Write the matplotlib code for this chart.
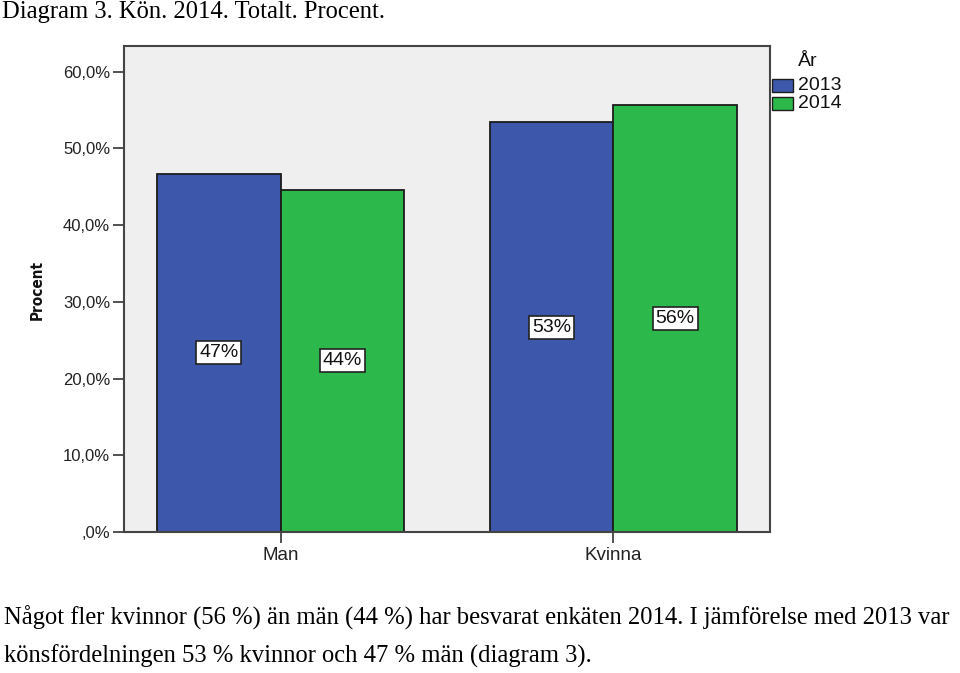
import matplotlib
matplotlib.use("Agg")
import matplotlib.pyplot as plt
from matplotlib.patches import Rectangle
from matplotlib import font_manager
import numpy as np

categories = ["Man", "Kvinna"]
years = ["2013", "2014"]
values_2013 = [46.7, 53.4]
values_2014 = [44.6, 55.6]
labels_2013 = ["47%", "53%"]
labels_2014 = ["44%", "56%"]
yticks = [0, 10, 20, 30, 40, 50, 60]
ytick_labels = [",0%", "10,0%", "20,0%", "30,0%", "40,0%", "50,0%", "60,0%"]

blue = "#3D58AB"
green = "#2DB84B"
edge = "#1c1c1c"

W, H = 960, 673
fig = plt.figure(figsize=(W / 100, H / 100), dpi=100)
fig.patch.set_facecolor("white")

ax = fig.add_axes([124 / W, 1 - 532 / H, (770 - 124) / W, (532 - 45.5) / H])
ax.set_facecolor("#EFEFEF")

x = np.arange(len(categories))
bw = 0.371
b1 = ax.bar(x - bw / 2, values_2013, bw, color=blue, edgecolor=edge, linewidth=1.3)
b2 = ax.bar(x + bw / 2, values_2014, bw, color=green, edgecolor=edge, linewidth=1.3)

sans = ["Liberation Sans", "DejaVu Sans"]
for bars, labs in ((b1, labels_2013), (b2, labels_2014)):
    for r, lab in zip(bars, labs):
        ax.text(r.get_x() + r.get_width() / 2, r.get_height() / 2, lab,
                ha="center", va="center", fontsize=14, family=sans, color="#111111",
                bbox=dict(boxstyle="square,pad=0.15", facecolor="white", edgecolor="#222222", linewidth=1.2))

ax.set_xlim(-0.47, 1.47)
ax.set_ylim(0, 63.4)
ax.set_yticks(yticks)
ax.set_yticklabels(ytick_labels, family=sans, fontsize=12, color="#222222")
ax.set_xticks(x)
ax.set_xticklabels(categories, family=sans, fontsize=13.5, color="#222222")
ax.tick_params(axis="y", direction="out", length=8, width=1.2, color="#333333", pad=2)
ax.tick_params(axis="x", direction="out", length=8, width=1.2, color="#333333", pad=3)
for s in ax.spines.values():
    s.set_color("#444444")
    s.set_linewidth(1.5)

names = {f.name for f in font_manager.fontManager.ttflist}
narrow = "Liberation Sans Narrow" if "Liberation Sans Narrow" in names else "DejaVu Sans"
fig.text(37 / W, 1 - 290 / H, "Procent", rotation=90, ha="center", va="center",
         fontsize=11, fontweight="bold", family=[narrow, "DejaVu Sans"],
         fontstretch="condensed", color="#111111")

# legend
fig.text(798 / W, 1 - 61 / H, "År", ha="left", va="center", fontsize=14, family=sans, color="#111111")
for i, (yr, col) in enumerate(zip(years, [blue, green])):
    top = 79 + i * 18
    fig.patches.append(Rectangle((772 / W, 1 - (top + 13) / H), 21 / W, 13 / H,
                                 transform=fig.transFigure, facecolor=col, edgecolor=edge, linewidth=1.0))
    fig.text(798 / W, 1 - (top + 6.5) / H, yr, ha="left", va="center", fontsize=14, family=sans, color="#111111")

serif = ["Liberation Serif", "DejaVu Serif"]
fig.text(2 / W, 1 - 12 / H, "Diagram 3. Kön. 2014. Totalt. Procent.", ha="left", va="center",
         fontsize=17.7, family=serif, color="black")
fig.text(4 / W, 1 - 618 / H,
         "Något fler kvinnor (56 %) än män (44 %) har besvarat enkäten 2014. I jämförelse med 2013 var",
         ha="left", va="center", fontsize=17.7, family=serif, color="black")
fig.text(4 / W, 1 - 656 / H,
         "könsfördelningen 53 % kvinnor och 47 % män (diagram 3).",
         ha="left", va="center", fontsize=17.7, family=serif, color="black")

fig.savefig("out.png", dpi=100)
